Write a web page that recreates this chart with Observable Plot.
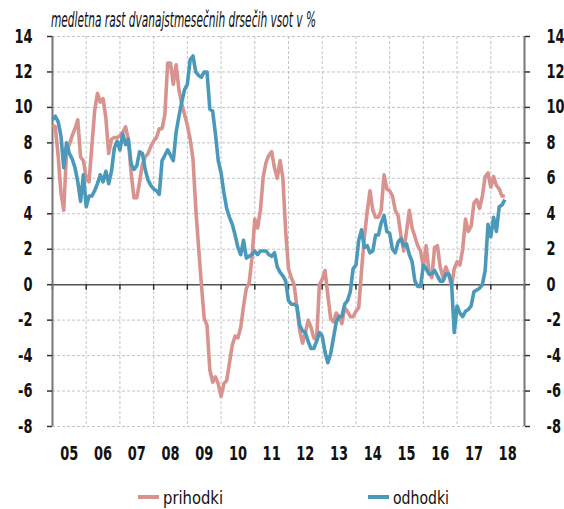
<!DOCTYPE html>
<html><head><meta charset="utf-8">
<script src="https://cdn.jsdelivr.net/npm/d3@7"></script>
<script src="https://cdn.jsdelivr.net/npm/@observablehq/plot@0.6"></script>
<style>
body{margin:0;background:#fff;}
#wrap{position:relative;width:564px;height:509px;font-family:"Liberation Sans Narrow","DejaVu Sans Condensed",sans-serif;color:#111;}
#chart{position:absolute;left:0;top:0;}
#title{position:absolute;left:51px;top:8px;font-style:italic;font-size:21px;white-space:nowrap;transform-origin:left top;display:inline-block;}
.item{position:absolute;top:486px;height:22px;display:flex;align-items:center;font-size:18px;white-space:nowrap;}
.sw{width:21px;height:4px;margin-right:4px;flex:none;}
.tx{display:inline-block;transform-origin:left center;}
</style></head>
<body><div id="wrap"><div id="chart"></div><div id="title"></div></div>
<script>
const titleText = "medletna rast dvanajstmesečnih drsečih vsot v %";
const startYear = 2005;
const seriesNames = ["prihodki", "odhodki"];
const seriesColors = ["#d9938f", "#4a98ba"];
const yearLabels = ["05","06","07","08","09","10","11","12","13","14","15","16","17","18"];
const yTicks = [-8,-6,-4,-2,0,2,4,6,8,10,12,14];

const prihodki = [
  9.0, 8.9, 7.3, 5.2, 4.2, 7.5, 7.9, 8.4, 8.8, 9.3, 7.2, 7.0,
  6.0, 5.8, 7.8, 9.8, 10.8, 10.3, 10.5, 9.4, 7.4, 8.2, 8.3, 8.3,
  8.4, 8.6, 8.9, 8.2, 6.3, 4.9, 4.9, 5.8, 6.8, 7.2, 7.4, 7.8,
  8.1, 8.3, 8.8, 8.8, 9.6, 12.5, 12.5, 11.3, 12.4, 11.0, 10.2, 9.6,
  9.0, 8.2, 7.1, 4.3, 2.1, 0.0, -1.9, -2.3, -4.8, -5.5, -5.2, -5.6,
  -6.3, -5.6, -5.4, -4.4, -3.4, -2.9, -3.0, -2.4, -1.2, -0.2, 0.1, 1.5,
  3.7, 3.2, 4.2, 6.1, 6.9, 7.3, 7.5, 6.6, 6.0, 7.0, 6.0, 3.0,
  0.9, 0.4, 0.0, -1.3, -2.6, -3.3, -2.7, -2.0, -2.4, -3.0, -3.1, 0.0,
  0.3, 0.8, -0.6, -1.9, -2.1, -1.6, -1.8, -2.2, -1.3, -1.5, -1.8, -1.8,
  -1.5, -1.3, 0.8, 2.7, 4.1, 5.3, 4.2, 3.8, 3.8, 4.2, 6.2, 5.4,
  5.3, 5.0, 4.2, 3.9, 2.8, 1.9, 3.0, 4.2, 3.2, 2.7, 2.2, 1.9,
  1.0, 2.2, 0.7, 0.4, 2.1, 2.2, 1.0, 0.4, 1.0, 0.6, -0.1, 0.9,
  1.3, 1.1, 2.0, 3.7, 3.0, 3.3, 4.6, 4.8, 4.3, 5.0, 6.1, 6.3,
  5.5, 6.1, 5.6, 5.4, 5.0, 5.0
];
const odhodki = [
  9.3, 9.5, 9.2, 8.4, 6.6, 8.0, 7.4, 7.1, 6.6, 5.8, 4.7, 6.2,
  4.4, 5.0, 5.0, 5.3, 5.7, 6.2, 5.8, 6.4, 5.7, 6.4, 7.7, 8.1,
  7.6, 8.5, 7.9, 8.2, 6.8, 6.5, 6.7, 7.5, 7.4, 6.5, 5.9, 5.6,
  5.4, 5.3, 5.1, 7.0, 7.3, 7.6, 7.3, 7.0, 8.6, 9.5, 10.3, 11.0,
  11.3, 12.7, 12.9, 12.0, 11.8, 11.7, 12.0, 12.0, 9.9, 9.8, 8.5, 7.0,
  6.3, 5.2, 4.3, 3.8, 3.4, 2.8, 2.1, 1.7, 2.5, 1.5, 1.6, 1.7,
  1.9, 1.7, 1.9, 1.9, 1.9, 1.7, 1.6, 1.8, 1.0, 0.7, 0.5, 0.2,
  -0.9, -1.1, -1.1, -1.2, -2.3, -2.6, -2.7, -3.2, -3.6, -3.6, -3.2, -2.7,
  -2.9, -3.8, -4.4, -3.9, -3.0, -2.1, -1.8, -1.8, -1.1, -0.9, -0.4, 0.9,
  1.1, 2.5, 3.1, 2.1, 2.2, 1.8, 1.9, 2.8, 2.8, 3.5, 3.9, 3.0,
  2.9, 2.0, 1.8, 2.4, 2.6, 2.2, 2.3, 1.7, 1.3, 0.2, -0.1, -0.1,
  1.1, 0.9, 0.6, 0.6, 0.8, 0.5, 0.2, 0.2, 0.6, 0.6, 0.2, -2.7,
  -1.2, -1.6, -1.8, -1.5, -1.4, -1.2, -0.4, -0.3, -0.2, 0.0, 0.8, 3.4,
  2.7, 3.8, 3.0, 4.4, 4.5, 4.8
];

const rows = [];
[prihodki, odhodki].forEach((arr, k) => arr.forEach((v, i) => rows.push({t: startYear + i / 12, v, s: seriesNames[k]})));
const endYear = startYear + yearLabels.length;
const yearBounds = d3.range(startYear, endYear + 1);
const labelPos = yearLabels.map((_, i) => startYear + i + 0.5);
const font = '"Liberation Sans Narrow","DejaVu Sans Condensed",sans-serif';

const chart = Plot.plot({
  width: 564, height: 480,
  marginLeft: 52, marginRight: 40, marginTop: 36, marginBottom: 54,
  x: {domain: [startYear, endYear], axis: null},
  y: {domain: [-8, 14], axis: null},
  color: {domain: seriesNames, range: seriesColors},
  style: {fontFamily: font, background: "white", color: "#111"},
  marks: [
    Plot.gridY(yTicks, {stroke: "#c4c4c4", strokeOpacity: 1, strokeDasharray: "3,2"}),
    Plot.gridX(yearBounds.slice(1, -1), {stroke: "#c4c4c4", strokeOpacity: 1, strokeDasharray: "3,2"}),
    Plot.ruleY([0], {stroke: "#555", strokeWidth: 1.5}),
    Plot.ruleX(yearBounds, {y1: 0, y2: -0.32, stroke: "#333", strokeWidth: 1.5}),
    Plot.ruleX([startYear, endYear], {y1: -8, y2: 14, stroke: "#777", strokeWidth: 2}),
    Plot.axisY(yTicks, {anchor: "left", label: null, tickSize: 5, tickPadding: 15, stroke: "#333", strokeWidth: 1.5, fontSize: 19, fontWeight: "bold", tickFormat: d => String(d)}),
    Plot.axisY(yTicks, {anchor: "right", label: null, tickSize: 5, tickPadding: 17, stroke: "#333", strokeWidth: 1.5, fontSize: 19, fontWeight: "bold", tickFormat: d => String(d)}),
    Plot.axisX(labelPos, {anchor: "bottom", label: null, tickSize: 0, tickPadding: 20, fontSize: 19, fontWeight: "bold", tickFormat: d => yearLabels[Math.round(d - startYear - 0.5)]}),
    Plot.line(rows, {x: "t", y: "v", z: "s", stroke: "s", strokeWidth: 3.6, strokeLinejoin: "round", strokeLinecap: "butt"})
  ]
});
document.getElementById("chart").appendChild(chart);

// narrow the tick labels horizontally around their anchor point
chart.querySelectorAll("text").forEach(el => {
  const b = el.getBBox();
  const anchor = getComputedStyle(el).textAnchor;
  const ax = anchor === "end" ? b.x + b.width : anchor === "middle" ? b.x + b.width / 2 : b.x;
  const old = el.getAttribute("transform") || "";
  el.setAttribute("transform", `${old} translate(${ax},0) scale(0.76,1) translate(${-ax},0)`);
});

const title = document.getElementById("title");
title.textContent = titleText;
title.style.transform = `scaleX(${265 / title.getBoundingClientRect().width})`;

const wrap = document.getElementById("wrap");
const legendX = [138, 368];
const legendW = [60, 56];
seriesNames.forEach((n, k) => {
  const it = document.createElement("div");
  it.className = "item";
  it.style.left = legendX[k] + "px";
  const sw = document.createElement("span");
  sw.className = "sw";
  sw.style.background = seriesColors[k];
  const tx = document.createElement("span");
  tx.className = "tx";
  tx.textContent = n;
  it.appendChild(sw); it.appendChild(tx);
  wrap.appendChild(it);
  tx.style.transform = `scaleX(${legendW[k] / tx.getBoundingClientRect().width})`;
});
</script>
</body></html>
